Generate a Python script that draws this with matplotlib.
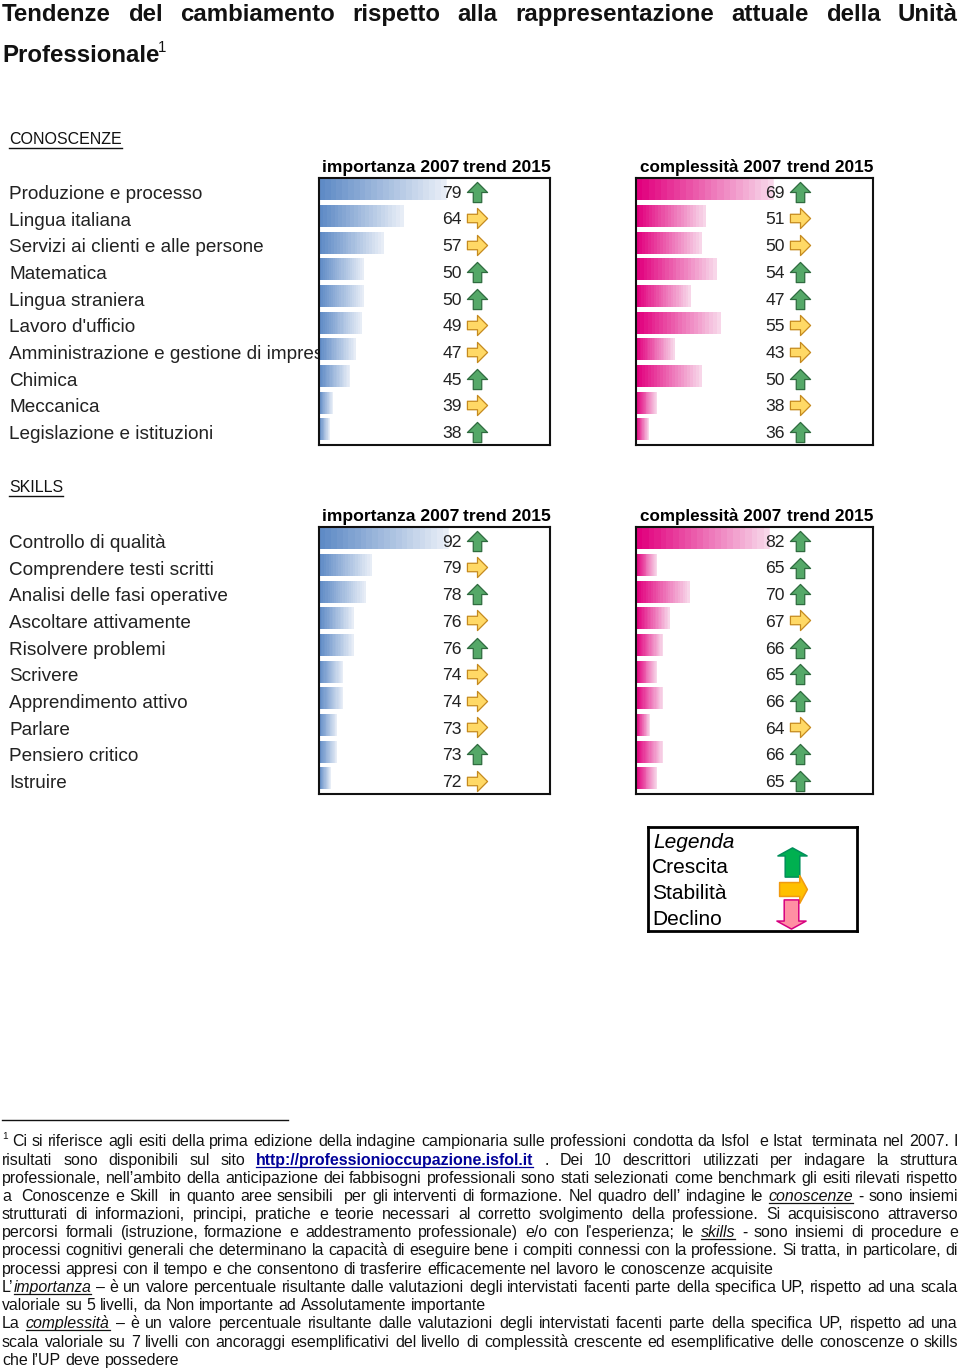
import numpy as np
import matplotlib
matplotlib.use('Agg')
import matplotlib.pyplot as plt
from matplotlib.colors import LinearSegmentedColormap
from matplotlib.path import Path

plt.rcParams['font.family'] = ['Liberation Sans', 'DejaVu Sans']
plt.rcParams['text.hinting'] = 'native'

W, H = 960, 1371

know_labels = ['Produzione e processo', 'Lingua italiana', 'Servizi ai clienti e alle persone',
               'Matematica', 'Lingua straniera', "Lavoro d'ufficio",
               'Amministrazione e gestione di imprese', 'Chimica', 'Meccanica',
               'Legislazione e istituzioni']
know_imp = [79, 64, 57, 50, 50, 49, 47, 45, 39, 38]
know_imp_trend = ['up', 'flat', 'flat', 'up', 'up', 'flat', 'flat', 'up', 'flat', 'up']
know_cpx = [69, 51, 50, 54, 47, 55, 43, 50, 38, 36]
know_cpx_trend = ['up', 'flat', 'flat', 'up', 'up', 'flat', 'flat', 'up', 'flat', 'up']

skill_labels = ['Controllo di qualità', 'Comprendere testi scritti', 'Analisi delle fasi operative',
                'Ascoltare attivamente', 'Risolvere problemi', 'Scrivere',
                'Apprendimento attivo', 'Parlare', 'Pensiero critico', 'Istruire']
skill_imp = [92, 79, 78, 76, 76, 74, 74, 73, 73, 72]
skill_imp_trend = ['up', 'flat', 'up', 'flat', 'up', 'flat', 'flat', 'flat', 'up', 'flat']
skill_cpx = [82, 65, 70, 67, 66, 65, 66, 64, 66, 65]
skill_cpx_trend = ['up', 'up', 'up', 'flat', 'up', 'up', 'up', 'flat', 'up', 'up']

title_line = 'Tendenze del cambiamento rispetto alla rappresentazione attuale della Unità'

# _x_ = italic underlined word, *x* = bold blue link, ~ = no gap after the word
foot_lines = [
    ('Ci si riferisce agli esiti della prima edizione della indagine campionaria sulle professioni condotta da Isfol  e Istat  terminata nel 2007. I', True),
    ('risultati sono disponibili sul sito *http://professionioccupazione.isfol.it* . Dei 10 descrittori utilizzati per indagare la struttura', True),
    ('professionale, nell’ambito della anticipazione dei fabbisogni professionali sono stati selezionati come benchmark gli esiti rilevati rispetto', True),
    ('a  Conoscenze e Skill  in quanto aree sensibili  per gli interventi di formazione. Nel quadro dell’ indagine le _conoscenze_ - sono insiemi', True),
    ('strutturati di informazioni, principi, pratiche e teorie necessari al corretto svolgimento della professione. Si acquisiscono attraverso', True),
    ("percorsi formali (istruzione, formazione e addestramento professionale) e/o con l'esperienza; le _skills_ - sono insiemi di procedure e", True),
    ('processi cognitivi generali che determinano la capacità di eseguire bene i compiti connessi con la professione. Si tratta, in particolare, di', True),
    ('processi appresi con il tempo e che consentono di trasferire efficacemente nel lavoro le conoscenze acquisite', False),
    ('L’~ _importanza_ – è un valore percentuale risultante dalle valutazioni degli intervistati facenti parte della specifica UP, rispetto ad una scala', True),
    ('valoriale su 5 livelli, da Non importante ad Assolutamente importante', False),
    ('La _complessità_ – è un valore percentuale risultante dalle valutazioni degli intervistati facenti parte della specifica UP, rispetto ad una', True),
    ('scala valoriale su 7 livelli con ancoraggi esemplificativi del livello di complessità crescente ed esemplificative delle conoscenze o skills', True),
    ('che l’UP deve possedere', False),
]

up_arrow = Path([(-.42, -1), (.42, -1), (.42, 0), (1, 0), (0, 1), (-1, 0), (-.42, 0), (-.42, -1)], closed=True)
right_arrow = Path([(-1, -.42), (-1, .42), (0, .42), (0, 1), (1, 0), (0, -1), (0, -.42), (-1, -.42)], closed=True)

# the legend arrows have a short head
legend_up = Path([(-.5, -1), (.5, -1), (.5, .45), (1, .45), (0, 1), (-1, .45), (-.5, .45), (-.5, -1)], closed=True)
legend_right = Path([(-1, -.5), (-1, .5), (.45, .5), (.45, 1), (1, 0), (.45, -1), (.45, -.5), (-1, -.5)], closed=True)
legend_down = Path([(-.5, 1), (.5, 1), (.5, -.45), (1, -.45), (0, -1), (-1, -.45), (-.5, -.45), (-.5, 1)], closed=True)

blue_map = LinearSegmentedColormap.from_list('b', ['#5f8bc6', '#eef2f9'])
pink_map = LinearSegmentedColormap.from_list('p', ['#e2007e', '#f9e0ee'])

fig = plt.figure(figsize=(W / 100, H / 100), dpi=100)
page = fig.add_axes([0, 0, 1, 1], zorder=-1)
page.set_xlim(0, W)
page.set_ylim(H, 0)
page.axis('off')


def px(size):
    return size * 72 / 100


def add_axes_px(x0, y0, x1, y1):
    return fig.add_axes([x0 / W, 1 - y1 / H, (x1 - x0) / W, (y1 - y0) / H])


def draw_panel(box, values, trends, zero, scale, cmap, label_x, arrow_x):
    ax = add_axes_px(*box)
    width = box[2] - box[0]
    rows = np.arange(len(values))
    for row, v in zip(rows, values):
        grad = np.floor(np.linspace(0, 1, 256) * 22) / 22
        ax.imshow(grad[None, :], cmap=cmap, vmin=0, vmax=1, aspect='auto', interpolation='nearest',
                  extent=(zero, v, row + 0.33, row - 0.47), zorder=1)
    ax.set_xlim(zero, zero + width / scale)
    ax.set_ylim(len(values) - 0.5, -0.5)
    ax.set_xticks([])
    ax.set_yticks([])
    for s in ax.spines.values():
        s.set_linewidth(1.5)
        s.set_color('#111111')
    trans = ax.get_yaxis_transform()
    for row, v, t in zip(rows, values, trends):
        ax.text((label_x - box[0]) / width, row + 0.09, str(v), transform=trans, ha='right', va='center',
                fontsize=px(17.5), color='#222222', zorder=3)
        if t == 'up':
            ax.plot([(arrow_x - box[0]) / width], [row + 0.02], transform=trans, marker=up_arrow, ms=14.5,
                    mfc='#55a868', mec='#2f6b3f', mew=0.9, zorder=4, clip_on=False)
        else:
            ax.plot([(arrow_x - box[0]) / width], [row], transform=trans, marker=right_arrow, ms=14.5,
                    mfc='#ffd966', mec='#c58a1e', mew=0.9, zorder=4, clip_on=False)
    return ax


def draw_block(heading, head_y, labels, y0, y1, imp, imp_t, cpx, cpx_t, imp_zero, imp_scale, cpx_zero, cpx_scale):
    head = page.text(9, head_y + 1, heading, fontsize=px(16), va='center', color='#111111')
    ext = head.get_window_extent(fig.canvas.get_renderer())
    page.plot([9, 9 + ext.width], [head_y + 9, head_y + 9], color='#111111', lw=1)
    n = len(labels)
    step = (y1 - y0) / n
    for i, lab in enumerate(labels):
        page.text(9, y0 + step * (i + 0.5) + 2.5, lab, fontsize=px(18.9), va='center', color='#222222')
    base = y0 - 6
    page.text(322, base, 'importanza 2007', fontsize=px(17.5), fontweight='bold')
    page.text(463, base, 'trend 2015', fontsize=px(17.5), fontweight='bold')
    page.text(640, base, 'complessità 2007', fontsize=px(17), fontweight='bold')
    page.text(787, base, 'trend 2015', fontsize=px(17.3), fontweight='bold')
    draw_panel((319, y0, 550, y1), imp, imp_t, imp_zero, imp_scale, blue_map, 462, 477)
    draw_panel((636, y0, 873, y1), cpx, cpx_t, cpx_zero, cpx_scale, pink_map, 785, 800)


def styled_words(line):
    # one entry per word: text, style, weight of the gap after it
    out = []
    for w in line.split(' '):
        if w == '':
            out[-1][2] += 1
            continue
        glue = w.endswith('~')
        w = w.rstrip('~')
        gap = 0 if glue else 1
        if w.startswith('_') and w.endswith('_'):
            out.append([w[1:-1], 'em', gap])
        elif w.startswith('*') and w.endswith('*'):
            out.append([w[1:-1], 'link', gap])
        else:
            out.append([w, '', gap])
    return out


def draw_line(x0, x1, y, line, justify, size, weight='normal'):
    rend = fig.canvas.get_renderer()
    items = []
    total = 0
    for w, st, g in styled_words(line):
        kw = {'fontweight': weight}
        color = '#111111'
        if st == 'em':
            kw['style'] = 'italic'
        if st == 'link':
            kw['fontweight'] = 'bold'
            color = '#000099'
        t = page.text(0, y, w, fontsize=px(size), va='baseline', ha='left', color=color, **kw)
        wd = t.get_window_extent(rend).width
        items.append((t, wd, st, g))
        total += wd
    weights = sum(it[3] for it in items[:-1])
    gap = (x1 - x0 - total) / weights if justify else size * 0.278
    x = x0
    for t, wd, st, g in items:
        t.set_x(x)
        if st:
            page.plot([x, x + wd], [y + 2, y + 2], color=t.get_color(), lw=0.9)
        x += wd + gap * g


draw_line(2, 958, 21, title_line, True, 24, weight='bold')
page.text(2, 62, 'Professionale', fontsize=px(24), fontweight='bold', va='baseline', color='#111111')
page.text(158, 52, '1', fontsize=px(15), va='baseline', color='#111111')

draw_block('CONOSCENZE', 139, know_labels, 178, 445, know_imp, know_imp_trend, know_cpx, know_cpx_trend,
           34.3, 2.86, 32.7, 3.78)
draw_block('SKILLS', 487, skill_labels, 527, 794, skill_imp, skill_imp_trend, skill_cpx, skill_cpx_trend,
           70.1, 5.9, 62, 6.7)

legend = add_axes_px(648, 827, 857, 931)
legend.set_xticks([])
legend.set_yticks([])
for s in legend.spines.values():
    s.set_linewidth(2)
legend.set_xlim(648, 857)
legend.set_ylim(931, 827)
legend.text(653, 842, 'Legenda', fontsize=px(21), style='italic', va='center')
legend.text(652, 867, 'Crescita', fontsize=px(21), va='center')
legend.text(652, 893, 'Stabilità', fontsize=px(21), va='center')
legend.text(652, 919, 'Declino', fontsize=px(21), va='center')
legend.plot([792], [861.5], marker=legend_up, ms=21, mfc='#00b050', mec='#008f5a', mew=1.1)
legend.plot([793], [889], marker=legend_right, ms=20, mfc='#ffc000', mec='#f09a10', mew=1.1)
legend.plot([790.5], [914], marker=legend_down, ms=21, mfc='#ff8fa3', mec='#d6007f', mew=1.1)

page.plot([2, 288], [1120, 1120], color='#111111', lw=1)
page.text(2, 1139, '1', fontsize=px(10), va='baseline', color='#111111')
line_y = [1146, 1165, 1183, 1201, 1219, 1237, 1255, 1274, 1292, 1310, 1328, 1347, 1365]
for i, (line, justify) in enumerate(foot_lines):
    draw_line(12 if i == 0 else 2, 958, line_y[i], line, justify, 15.9)

fig.savefig('out.png', dpi=100)
